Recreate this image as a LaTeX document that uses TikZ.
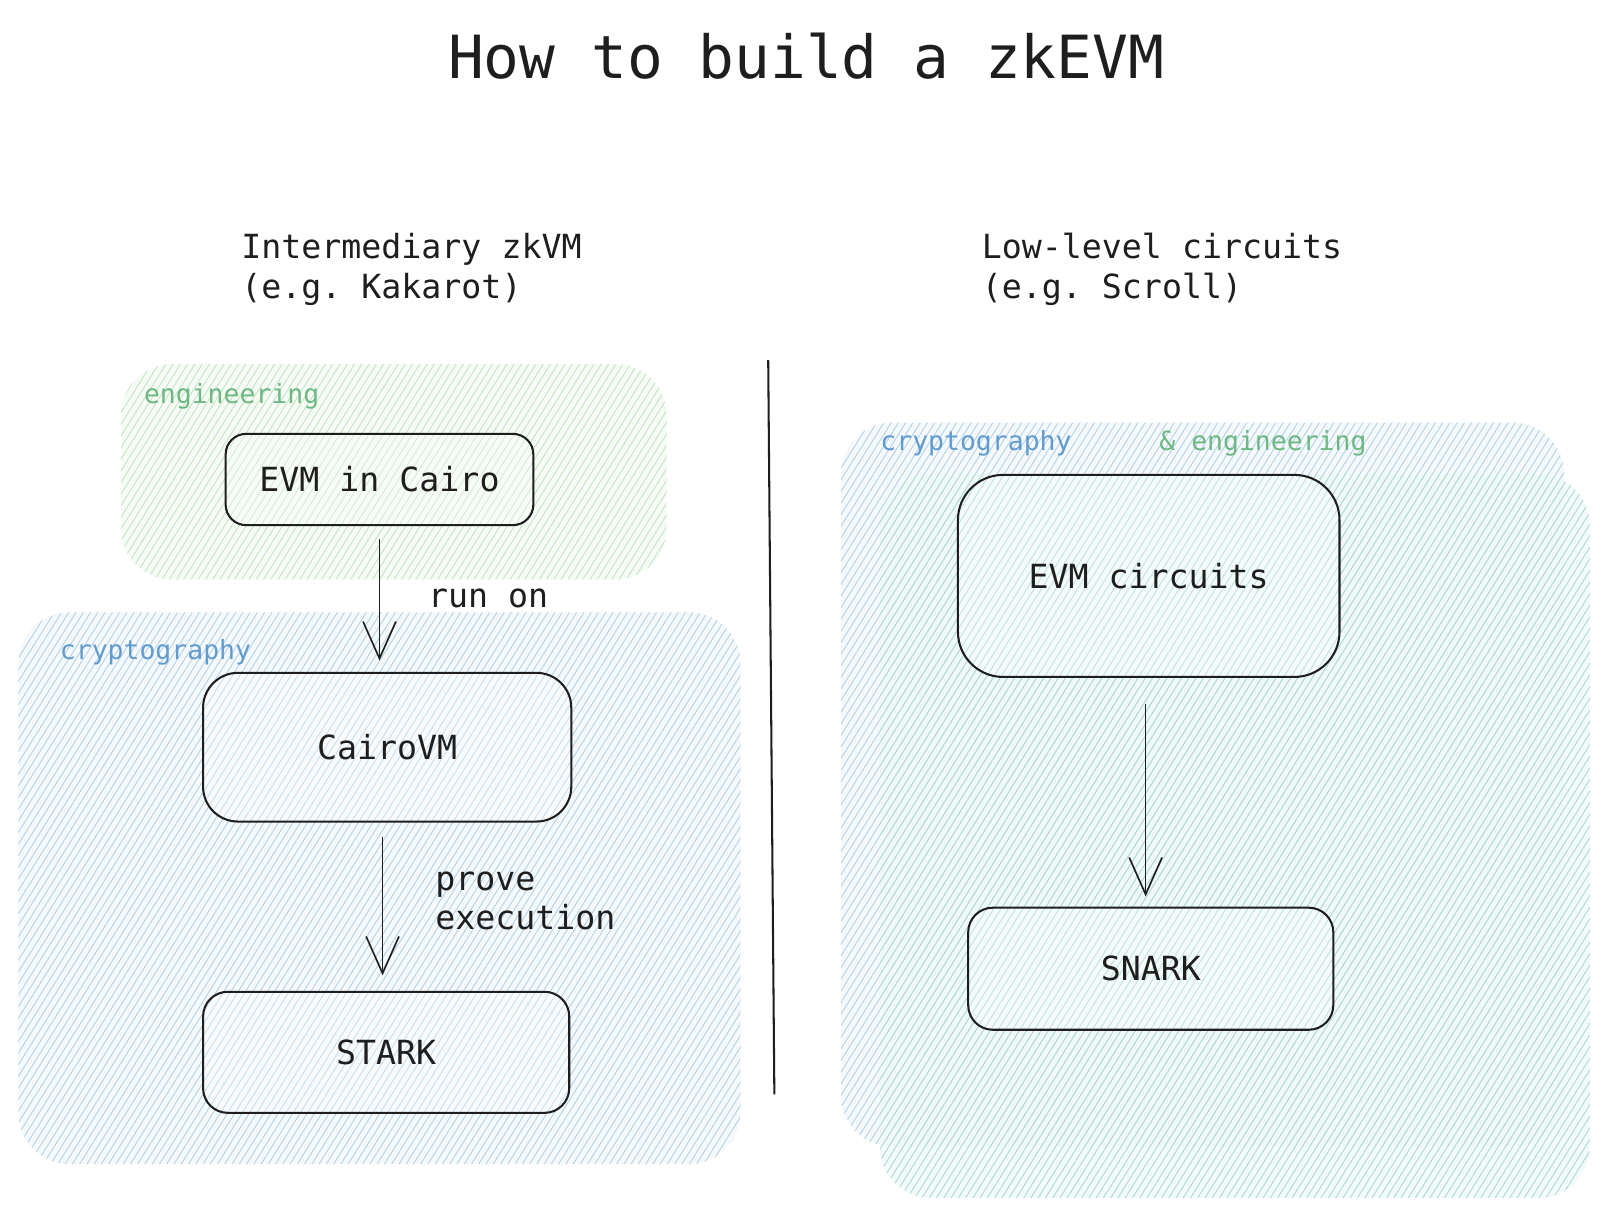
\documentclass[tikz,border=0pt]{standalone}
\usepackage{fontspec}
\setmonofont{DejaVu Sans Mono}
\usetikzlibrary{patterns.meta,arrows.meta}
\definecolor{ink}{HTML}{1E1E1E}
\definecolor{greenlbl}{RGB}{110,184,132}
\definecolor{bluelbl}{RGB}{98,156,206}
\definecolor{greenbg}{RGB}{246,251,245}
\definecolor{greenhatch}{RGB}{196,228,196}
\definecolor{bluebg}{RGB}{245,249,252}
\definecolor{bluehatch}{RGB}{182,210,230}
\definecolor{tealbg}{RGB}{240,249,247}
\definecolor{tealhatch}{RGB}{170,220,212}
\begin{document}
\begin{tikzpicture}[x=0.5pt,y=-0.5pt,
  region/.style={rounded corners=25pt},
  hatch/.style={postaction={pattern={Lines[angle=58,distance=3pt,line width=0.45pt]},pattern color=#1}},
  box/.style={draw=ink,line width=1pt,fill=white,fill opacity=0.3,text opacity=1,inner sep=0pt,
    font=\ttfamily\fontsize{16.2pt}{20pt}\selectfont,text=ink},
  subtxt/.style={anchor=base west,inner sep=0pt,font=\ttfamily\fontsize{16.2pt}{20pt}\selectfont,text=ink},
  lbl/.style={anchor=base west,inner sep=0pt,font=\ttfamily\fontsize{12.9pt}{16pt}\selectfont},
  arr/.style={draw=ink,line width=0.8pt,-{Straight Barb[length=18pt,width=16pt,line width=0.8pt]}}
  ]
\useasboundingbox (0,0) rectangle (1560,1180);
\fill[white] (0,0) rectangle (1560,1180);

% regions
\path[region,fill=greenbg,hatch=greenhatch] (118,355) rectangle (650,565);
\path[region,fill=bluebg,hatch=bluehatch] (18,597) rectangle (722,1135);
\path[region,fill=bluebg,hatch=bluehatch] (820,412) rectangle (1525,1118);
\path[region,fill=tealbg,fill opacity=0.7,hatch=tealhatch] (858,462) rectangle (1550,1168);

% title
\node[anchor=base,inner sep=0pt,font=\ttfamily\fontsize{29pt}{34pt}\selectfont,text=ink] (title) at (786,77) {How to build a zkEVM};

% subtitles
\node[subtxt] (l1) at (235,252) {Intermediary zkVM};
\node[subtxt] (l2) at (235,291) {(e.g. Kakarot)};
\node[subtxt] (r1) at (957,252) {Low-level circuits};
\node[subtxt] (r2) at (957,291) {(e.g. Scroll)};

% region labels
\node[lbl,text=greenlbl] (leng) at (140,393) {engineering};
\node[lbl,text=bluelbl] (lcry) at (58,643) {cryptography};
\node[lbl,text=bluelbl] (rcry) at (858,439) {cryptography};
\node[lbl,text=greenlbl] (reng) at (1130,439) {\& engineering};

% divider
\coordinate (dtop) at (749,351);
\coordinate (dbot) at (755,1067);
\draw[ink,line width=1pt] (dtop) -- (dbot);

% boxes
\node[box,minimum width=150pt,minimum height=44.5pt,rounded corners=10pt] (evm) at (370,467.5) {EVM in Cairo};
\node[box,minimum width=179.5pt,minimum height=72.5pt,rounded corners=17pt] (cvm) at (377.5,728.5) {CairoVM};
\node[box,minimum width=178.5pt,minimum height=59pt,rounded corners=12pt] (stark) at (376.5,1026) {STARK};
\node[box,minimum width=186pt,minimum height=98.5pt,rounded corners=22pt] (circ) at (1120,561.5) {EVM circuits};
\node[box,minimum width=178pt,minimum height=59.5pt,rounded corners=12pt] (snark) at (1122,944.5) {SNARK};

% arrows
\draw[arr] ([yshift=-6.5pt]evm.south) -- ([yshift=5.5pt]evm.south |- cvm.north);
\draw[arr] ([xshift=-2.25pt,yshift=-7pt]cvm.south) -- ([xshift=-2.25pt,yshift=7.5pt]cvm.south |- stark.north);
\draw[arr] ([xshift=-1.5pt,yshift=-12.5pt]circ.south) -- ([xshift=-1.5pt,yshift=5pt]circ.south |- snark.north);

% arrow labels
\node[subtxt] (runon) at (417,592) {run on};
\node[subtxt] (prove) at (424,868) {prove};
\node[subtxt] (exec) at (424,906) {execution};
\end{tikzpicture}
\end{document}
